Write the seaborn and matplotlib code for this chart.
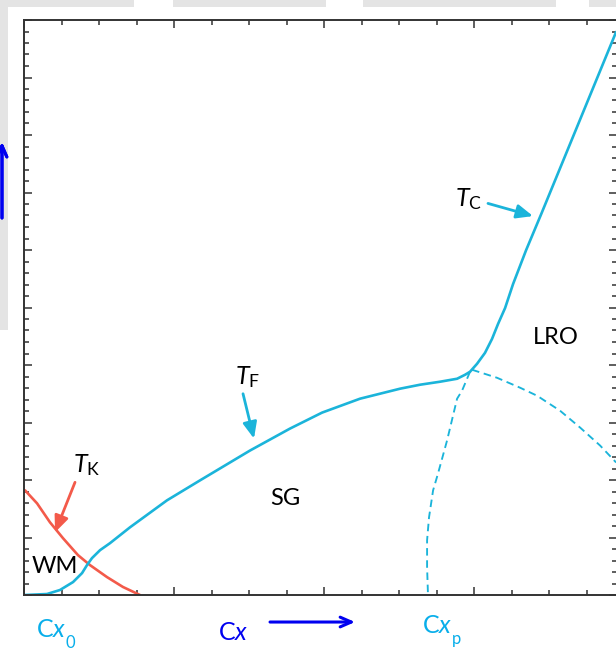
import numpy as np
import pandas as pd
import seaborn as sns
from matplotlib import pyplot as plt
from matplotlib.ticker import MultipleLocator
from matplotlib.patches import Rectangle

# phase boundary curves (Cx on x, T on y, arbitrary units)
tf_x = [0.007, 0.153, 0.24, 0.327, 0.387, 0.42, 0.453, 0.507, 0.573, 0.707, 0.953, 1.173,
        1.507, 1.773, 1.987, 2.24, 2.507, 2.64, 2.773, 2.887, 2.94, 2.973, 3.02, 3.073,
        3.12, 3.16, 3.207, 3.26, 3.347, 3.447, 3.947]
tf_y = [0.0, 0.017, 0.087, 0.225, 0.381, 0.52, 0.641, 0.78, 0.901, 1.178, 1.646, 1.993,
        2.513, 2.894, 3.172, 3.414, 3.588, 3.657, 3.709, 3.761, 3.83, 3.882, 4.021, 4.211,
        4.454, 4.714, 4.991, 5.407, 5.997, 6.62, 9.792]

tk_x = [0.007, 0.087, 0.173, 0.26, 0.36, 0.44, 0.553, 0.66, 0.773]
tk_y = [1.82, 1.594, 1.265, 0.988, 0.693, 0.52, 0.312, 0.139, 0.0]

cxp_x = [2.973, 2.92, 2.887, 2.82, 2.76, 2.727, 2.70, 2.687, 2.687, 2.693]
cxp_y = [3.882, 3.553, 3.414, 2.686, 2.114, 1.82, 1.352, 0.953, 0.485, 0.0]

lro_x = [2.987, 3.153, 3.307, 3.42, 3.573, 3.707, 3.84, 3.947]
lro_y = [3.917, 3.778, 3.605, 3.466, 3.206, 2.912, 2.6, 2.305]

CYAN = '#1bb4da'
RED = '#f35a4a'
TXT_CYAN = '#08aeea'
BLUE = '#0000f0'

sns.set_style('ticks')
plt.rcParams['font.family'] = ['Lato', 'DejaVu Sans']
plt.rcParams['mathtext.fontset'] = 'custom'
plt.rcParams['mathtext.rm'] = 'Lato'
plt.rcParams['mathtext.it'] = 'Lato:italic'

fig = plt.figure(figsize=(6.16, 6.5), dpi=100)
fig.patch.set_facecolor('white')

# light grey bits of the page behind the figure
for x0, x1 in [(0, 134), (173, 326), (363, 556), (589, 616)]:
    fig.add_artist(Rectangle((x0 / 616, 1 - 7 / 650), (x1 - x0) / 616, 7 / 650,
                             transform=fig.transFigure, color='#e4e4e4', lw=0, zorder=0))
fig.add_artist(Rectangle((0, (650 - 330) / 650), 8 / 616, 330 / 650,
                         transform=fig.transFigure, color='#e4e4e4', lw=0, zorder=0))

ax = fig.add_axes([24 / 616, 55 / 650, 593 / 616, 575 / 650])

df_tf = pd.DataFrame({'x': tf_x, 'y': tf_y})
df_tk = pd.DataFrame({'x': tk_x, 'y': tk_y})
df_p = pd.DataFrame({'x': cxp_x, 'y': cxp_y})
df_l = pd.DataFrame({'x': lro_x, 'y': lro_y})

sns.lineplot(data=df_tk, x='x', y='y', sort=False, estimator=None, color=RED, lw=1.9, ax=ax)
sns.lineplot(data=df_tf, x='x', y='y', sort=False, estimator=None, color=CYAN, lw=1.9, ax=ax)
sns.lineplot(data=df_p, x='x', y='y', sort=False, estimator=None, color=CYAN, lw=1.35,
             ls=(0, (4, 2.5)), ax=ax)
sns.lineplot(data=df_l, x='x', y='y', sort=False, estimator=None, color=CYAN, lw=1.35,
             ls=(0, (4, 2.5)), ax=ax)

ax.set_xlim(0, 3.953)
ax.set_ylim(0, 10)
ax.xaxis.set_major_locator(MultipleLocator(1))
ax.xaxis.set_minor_locator(MultipleLocator(0.25))
ax.yaxis.set_major_locator(MultipleLocator(1))
ax.yaxis.set_minor_locator(MultipleLocator(0.2))
ax.tick_params(which='both', direction='in', top=True, right=True, color='#333333',
               labelbottom=False, labelleft=False, width=1.1)
ax.tick_params(which='major', length=5.5)
ax.tick_params(which='minor', length=3.5)
ax.set_xlabel('')
ax.set_ylabel('')
for s in ax.spines.values():
    s.set_color('#333333')
    s.set_linewidth(1.4)

# arrows pointing at the boundaries
akw = dict(arrowstyle='-|>,head_length=0.7,head_width=0.3', lw=2.0, shrinkA=0, shrinkB=0,
           mutation_scale=14)
ax.annotate('', xy=(0.207, 1.09), xytext=(0.34, 1.96),
            arrowprops=dict(color=RED, **akw))
ax.annotate('', xy=(1.533, 2.72), xytext=(1.46, 3.50),
            arrowprops=dict(color=CYAN, **akw))
ax.annotate('', xy=(3.393, 6.59), xytext=(3.093, 6.81),
            arrowprops=dict(color=CYAN, **akw))

# T labels
ax.text(0.327, 2.13, r'$T_{\mathrm{K}}$', fontsize=18, color='black', va='baseline')
ax.text(1.407, 3.66, r'$T_{\mathrm{F}}$', fontsize=18, color='black', va='baseline')
ax.text(2.873, 6.76, r'$T_{\mathrm{C}}$', fontsize=18, color='black', va='baseline')

ax.text(0.053, 0.38, 'WM', fontsize=17, color='black', va='baseline')
ax.text(1.64, 1.56, 'SG', fontsize=17, color='black', va='baseline')
ax.text(3.393, 4.37, 'LRO', fontsize=17, color='black', va='baseline')

# Cx labels under the axis
ckw = dict(va='baseline', clip_on=False)
ax.text(0.08, -0.73, r'$\mathrm{C}x$', fontsize=18, color=TXT_CYAN, **ckw)
ax.text(0.275, -0.92, '0', fontsize=12, color=TXT_CYAN, **ckw)

ax.text(1.293, -0.78, r'$\mathrm{C}x$', fontsize=18, color=BLUE, **ckw)
ax.annotate('', xy=(2.207, -0.47), xytext=(1.64, -0.47), annotation_clip=False,
            arrowprops=dict(arrowstyle='->,head_length=0.8,head_width=0.35', color=BLUE,
                            lw=2.2, shrinkA=0, shrinkB=0))

ax.text(2.653, -0.66, r'$\mathrm{C}x$', fontsize=18, color=TXT_CYAN, **ckw)
ax.text(2.85, -0.86, 'p', fontsize=12, color=TXT_CYAN, **ckw)

# cropped T axis arrow at the far left
fig.add_artist(plt.annotate('', xy=(2, 508), xytext=(2, 432), xycoords='figure pixels',
                            textcoords='figure pixels',
                            arrowprops=dict(arrowstyle='->,head_length=0.8,head_width=0.35',
                                            color=BLUE, lw=2.2, shrinkA=0, shrinkB=0)))

fig.savefig('out.png', dpi=100)
